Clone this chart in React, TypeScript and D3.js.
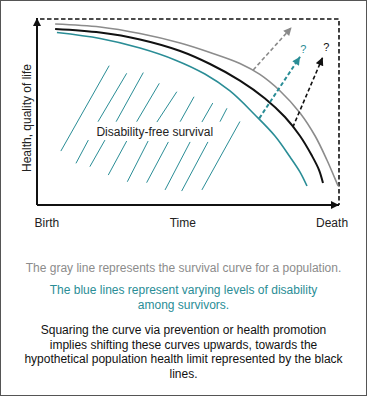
import * as d3 from 'd3';

// survival / health curves, [time %, health %]
const grayCurve: [number, number][] = [
  [6.0, 97.3], [20.9, 95.7], [34.1, 92.2], [47.4, 87.1], [57.3, 82.0], [67.2, 76.1], [73.8, 70.2],
  [80.5, 61.3], [87.1, 49.5], [92.1, 37.1], [96.0, 24.2], [98.3, 15.6], [99.7, 10.2],
];
const blackCurve: [number, number][] = [
  [6.0, 94.6], [20.9, 92.7], [34.1, 89.0], [47.4, 82.8], [57.3, 75.8], [67.2, 66.9],
  [75.5, 57.3], [82.1, 47.3], [87.1, 37.1], [91.1, 26.3], [93.4, 18.8], [94.7, 11.8],
];
const tealCurve: [number, number][] = [
  [6.6, 92.7], [20.9, 89.5], [34.1, 84.4], [45.7, 78.0], [55.6, 70.4], [63.9, 61.3],
  [72.2, 48.4], [78.8, 37.1], [83.8, 25.8], [87.1, 17.7], [89.4, 10.2],
];

// hatch strokes (top end, bottom end)
const hatchTop: [number, number][] = [
  [23.9, 74.9], [29.7, 70.8], [35.2, 71.2], [40.5, 65.4], [46.3, 60.9], [52.0, 58.2], [58.2, 54.8], [62.9, 52.0],
  [17.0, 34.9], [22.5, 34.9], [29.7, 34.4], [36.8, 34.4], [43.5, 33.9], [50.7, 33.9], [56.6, 33.9], [67.2, 44.9],
];
const hatchBottom: [number, number][] = [
  [7.9, 29.0], [20.2, 44.8], [26.2, 44.8], [33.0, 44.8], [39.7, 44.6], [47.4, 44.8], [54.6, 44.6], [60.6, 44.8],
  [12.9, 22.4], [17.5, 20.6], [23.6, 16.1], [29.9, 12.5], [36.3, 12.0], [42.4, 8.1], [47.9, 7.5], [54.6, 8.1],
];

// dashed "shift" arrows
const arrowSeries = ['gray', 'teal', 'black'];
const arrowStart: [number, number][] = [[71.6, 72.6], [73.6, 46.6], [84.7, 41.8]];
const arrowEnd: [number, number][] = [[84.3, 95.5], [87.1, 79.7], [94.6, 79.4]];
const questionSeries = ['teal', 'black'];
const questionAt: [number, number][] = [[88.2, 81.8], [95.8, 82.8]];

const axisLabels = ['Birth', 'Time', 'Death'];
const axisLabelAt = [3.3, 48.3, 97.7];
const yLabel = 'Health, quality of life';
const areaLabel = 'Disability-free survival';

const grayNote = ['The gray line represents the survival curve for a population.'];
const tealNote = ['The blue lines represent varying levels of disability', 'among survivors.'];
const blackNote = [
  'Squaring the curve via prevention or health promotion',
  'implies shifting these curves upwards, towards the',
  'hypothetical population health limit represented by the black',
  'lines.',
];

const W = 367;
const H = 396;
const TEAL = '#2a8d96';
const GRAY = '#8c8c8c';
const colors: Record<string, string> = { gray: '#8a8a8a', teal: TEAL, black: '#111' };

export default function App() {
  const x = d3.scaleLinear().domain([0, 100]).range([37, 339]);
  const y = d3.scaleLinear().domain([0, 100]).range([205, 19]);
  const line = d3
    .line<[number, number]>()
    .x((d) => x(d[0]))
    .y((d) => y(d[1]))
    .curve(d3.curveCatmullRom.alpha(0.5));

  const font = 'Liberation Sans, Arial, Helvetica, sans-serif';

  return (
    <div style={{ position: 'absolute', left: 0, top: 0 }}>
      <svg width={W} height={H} style={{ display: 'block', fontFamily: font }}>
        <defs>
          {Object.keys(colors).map((k) => (
            <marker
              key={k}
              id={`head-${k}`}
              viewBox="0 0 10 10"
              refX={10}
              refY={5}
              markerUnits="userSpaceOnUse"
              markerWidth={9}
              markerHeight={8}
              orient="auto"
            >
              <path d="M0,0 L10,5 L0,10 z" fill={colors[k]} />
            </marker>
          ))}
        </defs>
        <rect x={0.5} y={0.5} width={W - 1} height={H - 1} fill="#fff" stroke="#555" />

        {/* limit box */}
        <path
          d={`M${x(1)},${y(100)} H${x(100)} V${y(0)}`}
          fill="none"
          stroke="#111"
          strokeWidth={1.6}
          strokeDasharray="4.5,2.5"
        />

        {/* hatching */}
        {hatchTop.map((t, i) => (
          <line
            key={i}
            x1={x(t[0])}
            y1={y(t[1])}
            x2={x(hatchBottom[i][0])}
            y2={y(hatchBottom[i][1])}
            stroke={TEAL}
            strokeWidth={1}
          />
        ))}

        <path d={line(grayCurve)!} fill="none" stroke={GRAY} strokeWidth={1.6} />
        <path d={line(blackCurve)!} fill="none" stroke="#111" strokeWidth={2} />
        <path d={line(tealCurve)!} fill="none" stroke={TEAL} strokeWidth={1.6} />

        {arrowSeries.map((s, i) => (
          <line
            key={s}
            x1={x(arrowStart[i][0])}
            y1={y(arrowStart[i][1])}
            x2={x(arrowEnd[i][0])}
            y2={y(arrowEnd[i][1])}
            stroke={colors[s]}
            strokeWidth={s === 'teal' ? 2 : 1.6}
            strokeDasharray="4,2.5"
            markerEnd={`url(#head-${s})`}
          />
        ))}
        {questionSeries.map((s, i) => (
          <text key={s} x={x(questionAt[i][0])} y={y(questionAt[i][1])} fontSize={11} fill={colors[s]} textAnchor="middle">
            ?
          </text>
        ))}

        {/* axes */}
        <line x1={x(0)} y1={y(0)} x2={x(0)} y2={y(100) - 1} stroke="#111" strokeWidth={2} markerEnd="url(#head-black)" />
        <line x1={x(0)} y1={y(0)} x2={x(100)} y2={y(0)} stroke="#111" strokeWidth={2} markerEnd="url(#head-black)" />

        <text x={x(39)} y={136} fontSize={12} fill="#222" textAnchor="middle">
          {areaLabel}
        </text>
        <text transform="translate(31,118) rotate(-90)" fontSize={12} fill="#222" textAnchor="middle">
          {yLabel}
        </text>
        {axisLabels.map((l, i) => (
          <text key={l} x={x(axisLabelAt[i])} y={227} fontSize={12} fill="#222" textAnchor="middle">
            {l}
          </text>
        ))}

        {grayNote.map((t, i) => (
          <text key={t} x={183.5} y={272 + i * 14.5} fontSize={12} fill={GRAY} textAnchor="middle">
            {t}
          </text>
        ))}
        {tealNote.map((t, i) => (
          <text key={t} x={183.5} y={294 + i * 15.3} fontSize={12} fill={TEAL} textAnchor="middle">
            {t}
          </text>
        ))}
        {blackNote.map((t, i) => (
          <text key={t} x={183.5} y={334 + i * 14.5} fontSize={12} fill="#111" textAnchor="middle">
            {t}
          </text>
        ))}
      </svg>
    </div>
  );
}
